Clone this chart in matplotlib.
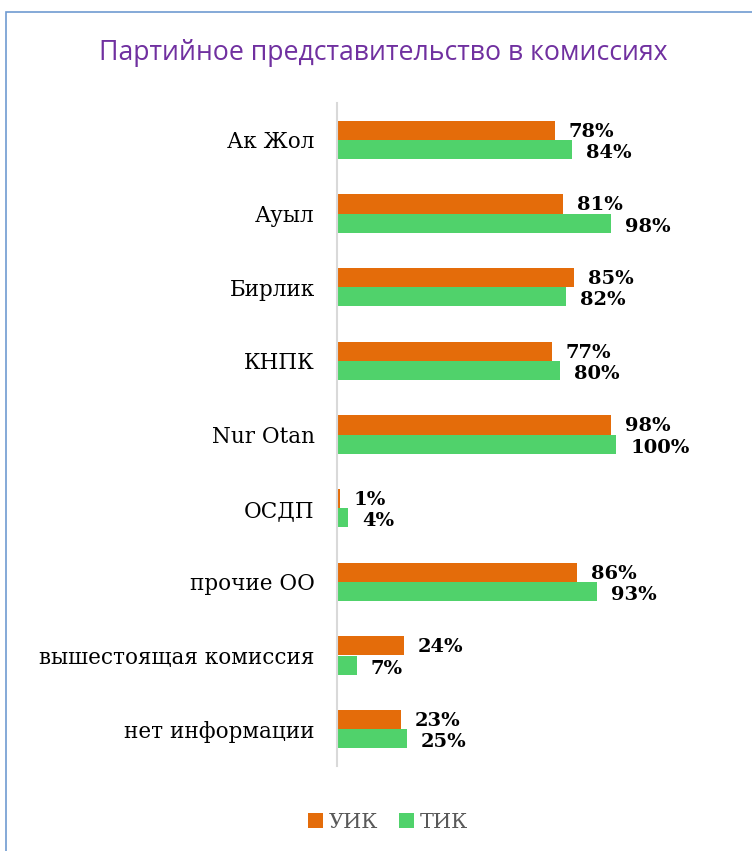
import numpy as np
import matplotlib
matplotlib.use("Agg")
import matplotlib.pyplot as plt
from matplotlib.patches import Rectangle

categories = ["Ак Жол", "Ауыл", "Бирлик", "КНПК", "Nur Otan", "ОСДП",
              "прочие ОО", "вышестоящая комиссия", "нет информации"]
uik = [78, 81, 85, 77, 98, 1, 86, 24, 23]
tik = [84, 98, 82, 80, 100, 4, 93, 7, 25]
series_names = ["УИК", "ТИК"]
colors = ["#E46C0A", "#50D26B"]

W, H = 752, 851
fig = plt.figure(figsize=(W / 100, H / 100), dpi=100)

# chart frame (only left and top visible in the crop)
fig.patches.append(Rectangle((6 / W, -0.1), 2.0, 1 - 12 / H + 0.1,
                             transform=fig.transFigure, fill=False,
                             edgecolor="#6F9BD1", linewidth=1.2))

ax = fig.add_axes([337 / W, 1 - 766 / H, 363 / W, 663 / H])

y = np.arange(len(categories))
bh = 0.26
ax.barh(y - bh / 2, uik, height=bh, color=colors[0], label=series_names[0])
ax.barh(y + bh / 2, tik, height=bh, color=colors[1], label=series_names[1])

lab_font = dict(family="DejaVu Serif", fontsize=14, fontweight="bold")
for i in range(len(categories)):
    ax.text(uik[i] + 5, y[i] - bh / 2 + 0.02, f"{uik[i]}%", va="center", ha="left", **lab_font)
    ax.text(tik[i] + 5, y[i] + bh / 2 + 0.05, f"{tik[i]}%", va="center", ha="left", **lab_font)

ax.set_xlim(0, 130)
ax.set_ylim(len(categories) - 0.5, -0.5)
ax.set_yticks(y)
ax.set_yticklabels(categories, family="DejaVu Serif", fontsize=15.5)
ax.tick_params(axis="y", length=0, pad=16)
ax.set_xticks([])
for s in ["top", "right", "bottom"]:
    ax.spines[s].set_visible(False)
ax.spines["left"].set_color("#D9D9D9")
ax.spines["left"].set_linewidth(1.5)

fig.text(383 / W, 1 - 53 / H, "Партийное представительство в комиссиях",
         ha="center", va="center", color="#7030A0", fontsize=19.2, family="Open Sans")

handles, labels = ax.get_legend_handles_labels()
fig.legend(handles, labels, loc="center", bbox_to_anchor=(388 / W, 1 - 822 / H),
           ncol=2, frameon=False, prop={"family": "DejaVu Serif", "size": 15},
           handlelength=0.7, handleheight=0.7, handletextpad=0.3, columnspacing=1.0,
           labelcolor="#595959")

fig.savefig("out.png", dpi=100)
